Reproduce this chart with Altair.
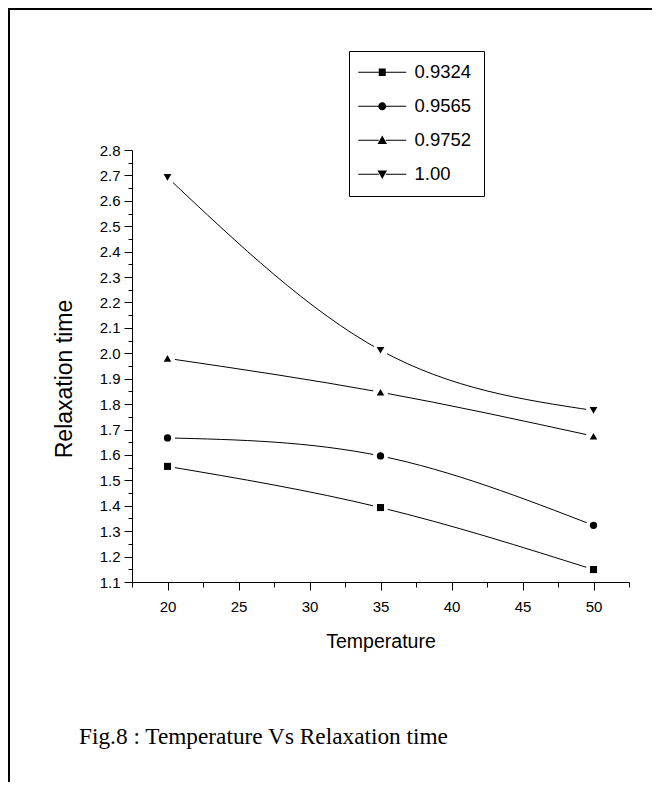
import altair as alt
import pandas as pd

# ---- data ----
temperature = [20, 35, 50]
series_names = ["0.9324", "0.9565", "0.9752", "1.00"]
relax_0_9324 = [1.555, 1.393, 1.149]
relax_0_9565 = [1.667, 1.596, 1.323]
relax_0_9752 = [1.980, 1.847, 1.674]
relax_1_00 = [2.692, 2.012, 1.775]

x_tick_values = [17.5, 20, 22.5, 25, 27.5, 30, 32.5, 35, 37.5, 40, 42.5, 45, 47.5, 50, 52.5]
y_tick_values = [1.1, 1.15, 1.2, 1.25, 1.3, 1.35, 1.4, 1.45, 1.5, 1.55, 1.6, 1.65, 1.7,
                 1.75, 1.8, 1.85, 1.9, 1.95, 2.0, 2.05, 2.1, 2.15, 2.2, 2.25, 2.3, 2.35,
                 2.4, 2.45, 2.5, 2.55, 2.6, 2.65, 2.7, 2.75, 2.8]

caption = "Fig.8 : Temperature Vs Relaxation time"

plot_shapes = ["square", "circle", "triangle-up", "triangle-down"]
plot_sizes = [50, 60, 100, 100]

# legend symbols: line - marker - line (lines drawn as thin filled bars)
LINE_L = "M-4.8,-0.1L-0.7,-0.1L-0.7,0.1L-4.8,0.1Z"
LINE_R = "M0.7,-0.1L4.8,-0.1L4.8,0.1L0.7,0.1Z"
legend_paths = [
    LINE_L + LINE_R + "M-0.7,-0.75L0.7,-0.75L0.7,0.75L-0.7,0.75Z",
    LINE_L + LINE_R + "M0.8,0A0.8,0.8 0 1,1 -0.8,0A0.8,0.8 0 1,1 0.8,0Z",
    LINE_L + LINE_R + "M0,-0.95L0.95,0.75L-0.95,0.75Z",
    LINE_L + LINE_R + "M0,0.95L0.95,-0.75L-0.95,-0.75Z",
]

all_values = [relax_0_9324, relax_0_9565, relax_0_9752, relax_1_00]
rows = []
for name, vals in zip(series_names, all_values):
    for t, v in zip(temperature, vals):
        rows.append({"temperature": t, "relax": v, "series": name})
df = pd.DataFrame(rows)

FONT = "Liberation Sans"

x_axis = alt.Axis(
    values=x_tick_values,
    labelExpr="datum.value % 5 == 0 ? format(datum.value, 'd') : ''",
    tickSize={"condition": {"test": "datum.value % 5 == 0", "value": 8}, "value": 5},
    labelFontSize=15, labelPadding=9, labelFont=FONT,
    title="Temperature", titleFontSize=19.5, titleFont=FONT,
    titleX=248.5, titleY=65, titleBaseline="alphabetic", titleAlign="center",
    domainColor="black", tickColor="black", labelColor="black", titleColor="black",
    titleFontWeight="normal", grid=False,
)
y_axis = alt.Axis(
    values=y_tick_values,
    labelExpr="round(datum.value * 100) % 10 == 0 ? format(datum.value, '.1f') : ''",
    tickSize={"condition": {"test": "round(datum.value * 100) % 10 == 0", "value": 8}, "value": 4},
    labelFontSize=15, labelPadding=4, labelFont=FONT,
    title="Relaxation time", titleFontSize=23, titleFont=FONT,
    titleX=-61, titleY=228.5, titleAngle=270, titleBaseline="alphabetic", titleAlign="center",
    domainColor="black", tickColor="black", labelColor="black", titleColor="black",
    titleFontWeight="normal", grid=False,
)

X = alt.X("temperature:Q", scale=alt.Scale(domain=[17.5, 52.5], nice=False, zero=False), axis=x_axis)
Y = alt.Y("relax:Q", scale=alt.Scale(domain=[1.1, 2.8], nice=False, zero=False), axis=y_axis)

base = alt.Chart(df)

lines = base.mark_line(interpolate="natural", color="black", strokeWidth=1).encode(
    x=X, y=Y, detail="series:N"
)

halo = base.mark_point(shape="circle", filled=True, color="white", size=230, opacity=1).encode(
    x=X, y=Y
)

points = base.mark_point(filled=True, color="black", opacity=1).encode(
    x=X, y=Y,
    shape=alt.Shape("series:N", scale=alt.Scale(domain=series_names, range=plot_shapes), legend=None),
    size=alt.Size("series:N", scale=alt.Scale(domain=series_names, range=plot_sizes), legend=None),
)

legend_layer = base.mark_point(filled=True, color="black", opacity=0, size=100).encode(
    x=X, y=Y,
    shape=alt.Shape(
        "series:N",
        scale=alt.Scale(domain=series_names, range=legend_paths),
        legend=alt.Legend(
            title=None, orient="none", legendX=217, legendY=-99,
            padding=12, strokeColor="black", fillColor="white",
            labelFont=FONT, labelFontSize=18.5, labelColor="black",
            symbolOffset=12, labelOffset=23, rowPadding=15,
            symbolSize=100, symbolStrokeWidth=0, symbolOpacity=1,
            symbolFillColor="black",
        ),
    ),
)

frame_df = pd.DataFrame({"k": [0]})
top_rule = alt.Chart(frame_df).mark_rule(color="black", strokeWidth=2).encode(
    x=alt.value(-124), x2=alt.value(520), y=alt.value(-141)
)
left_rule = alt.Chart(frame_df).mark_rule(color="black", strokeWidth=2).encode(
    x=alt.value(-123), y=alt.value(-142), y2=alt.value(632)
)
caption_text = alt.Chart(frame_df).mark_text(
    text=caption, font="Liberation Serif", fontSize=23.3, color="black",
    align="center", baseline="alphabetic",
).encode(x=alt.value(131.5), y=alt.value(594))

chart = (
    alt.layer(lines, halo, points, legend_layer, top_rule, left_rule, caption_text)
    .resolve_scale(shape="independent", size="independent")
    .properties(
        width=497,
        height=432,
        autosize=alt.AutoSizeParams(type="none"),
        padding={"left": 124, "top": 142, "right": 23, "bottom": 200},
        background="white",
    )
    .configure_view(stroke=None)
)

chart.save("out.html", embed_options={"renderer": "svg", "actions": False})
